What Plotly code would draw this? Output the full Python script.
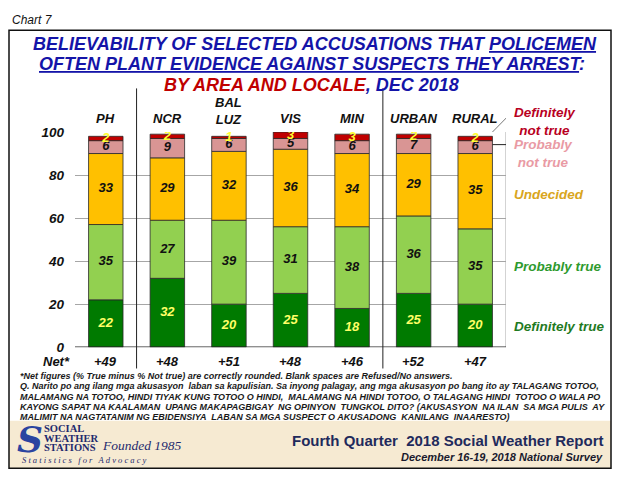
import plotly.graph_objects as go

W, H = 621, 486

categories = ["PH", "NCR", "BAL<br>LUZ", "VIS", "MIN", "URBAN", "RURAL"]
definitely_true = [22, 32, 20, 25, 18, 25, 20]
probably_true = [35, 27, 39, 31, 38, 36, 35]
undecided = [33, 29, 32, 36, 34, 29, 35]
probably_not_true = [6, 9, 6, 5, 6, 7, 6]
definitely_not_true = [2, 2, 1, 3, 3, 2, 2]
net_labels = ["+49", "+48", "+51", "+48", "+46", "+52", "+47"]

series = [
    ("Definitely true", definitely_true, "#007A00", "#FFFF66"),
    ("Probably true", probably_true, "#92D050", "#111111"),
    ("Undecided", undecided, "#FFC000", "#111111"),
    ("Probably not true", probably_not_true, "#D99594", "#111111"),
    ("Definitely not true", definitely_not_true, "#C00000", "#FFFF33"),
]

FONT = "Liberation Sans"
xpos = list(range(len(categories)))


def px(x):
    return x / W


def py(y):
    return 1 - y / H


fig = go.Figure()

base = [0] * len(categories)
label_traces = []
for name, vals, color, tcolor in series:
    fig.add_trace(go.Bar(
        x=xpos, y=vals, base=base, name=name,
        marker=dict(color=color, line=dict(color="#2a2a2a", width=0.8)),
        hoverinfo="skip", showlegend=False,
    ))
    mids = [b + v / 2 for b, v in zip(base, vals)]
    label_traces.append(go.Scatter(
        x=xpos, y=mids, mode="text", text=[str(v) for v in vals],
        textfont=dict(family=FONT, size=13, color=tcolor, weight="bold", style="italic"),
        hoverinfo="skip", showlegend=False,
    ))
    base = [b + v for b, v in zip(base, vals)]

for t in label_traces:
    fig.add_trace(t)

x0p, x1p = 75, 506
y0p, y1p = 351, 129

fig.update_layout(
    width=W, height=H,
    margin=dict(l=0, r=0, t=0, b=0),
    paper_bgcolor="white", plot_bgcolor="white",
    barmode="overlay", bargap=0.44,
    xaxis=dict(domain=[px(x0p), px(x1p)], range=[-0.5, 6.5], showticklabels=False,
               showgrid=False, zeroline=False, fixedrange=True),
    yaxis=dict(domain=[py(y0p), py(y1p)], range=[0, 100], tickvals=[0, 20, 40, 60, 80, 100],
               showgrid=True, gridcolor="#A6A6A6", gridwidth=1, zeroline=False,
               ticks="", ticklabelstandoff=10,
               tickfont=dict(family=FONT, size=13.5, color="#111111", weight="bold", style="italic")),
    font=dict(family=FONT),
)

shapes = []
# x axis line
shapes.append(dict(type="line", xref="x", yref="y", x0=-0.5, x1=6.5, y0=0, y1=0,
                   line=dict(color="#222222", width=1.2), layer="above"))
# right border of plot
shapes.append(dict(type="line", xref="x", yref="y", x0=6.5, x1=6.5, y0=0, y1=100,
                   line=dict(color="#A6A6A6", width=1), layer="below"))
# group separators
for sep in [0.5, 4.5]:
    shapes.append(dict(type="line", xref="x", yref="paper", x0=sep, x1=sep, y0=py(373), y1=py(84),
                       line=dict(color="#222222", width=1)))
# footer band
shapes.append(dict(type="rect", xref="paper", yref="paper", x0=px(9), x1=px(611), y0=py(476), y1=py(427),
                   fillcolor="#F6EAD2", line=dict(width=0), layer="below"))
# outer box
shapes.append(dict(type="rect", xref="paper", yref="paper", x0=px(9), x1=px(611), y0=py(476), y1=py(24),
                   line=dict(color="#111111", width=1.5)))
# leader lines
shapes.append(dict(type="line", xref="x", yref="paper", x0=6.28, x1=6.62, y0=py(129), y1=py(107),
                   line=dict(color="#777777", width=1)))
shapes.append(dict(type="line", xref="x", yref="paper", x0=6.28, x1=6.62, y0=py(142), y1=py(142),
                   line=dict(color="#222222", width=1)))
fig.update_layout(shapes=shapes)

ann = []


def add_text(x, y, text, size, color="#111111", xanchor="center", xref="paper", bold=True, italic=True,
             family=FONT, yanchor="middle"):
    ann.append(dict(x=x, y=y, xref=xref, yref="paper", text=text, showarrow=False,
                    xanchor=xanchor, yanchor=yanchor,
                    font=dict(family=family, size=size, color=color,
                              weight="bold" if bold else "normal",
                              style="italic" if italic else "normal")))


add_text(px(10), py(13), "Chart 7", 12, bold=False, xanchor="left")
BLUE = "#1414A8"
add_text(px(315), py(38), "BELIEVABILITY OF SELECTED ACCUSATIONS THAT <u>POLICEMEN</u>", 18, BLUE)
add_text(px(312), py(59), "<u>OFTEN PLANT EVIDENCE AGAINST SUSPECTS THEY ARREST</u>:", 18, BLUE)
add_text(px(311), py(80), "<span style='color:#C00000'>BY AREA AND LOCALE</span>, DEC 2018", 18, BLUE)

for i, c in enumerate(categories):
    add_text(i, py(107) if "<br>" in c else py(115), c, 13, xref="x")
    add_text(i, py(366), net_labels[i], 13, xref="x")
add_text(px(41), py(366), "Net*", 13, xanchor="left")

# legend-like labels
add_text(px(512), py(118), "Definitely<br>not true", 13.5, "#B8001E", xanchor="left")
add_text(px(512), py(151), "Probably<br>not true", 13.5, "#E99AA4", xanchor="left")
add_text(px(512), py(193), "Undecided", 13.5, "#D9A520", xanchor="left")
add_text(px(512), py(268), "Probably true", 13.5, "#2E9A2E", xanchor="left")
add_text(px(512), py(330), "Definitely true", 13.5, "#1F7A1F", xanchor="left")

foot = [
    "*Net figures (% True minus % Not true) are correctly rounded. Blank spaces are Refused/No answers.",
    "Q. Narito po ang ilang mga akusasyon  laban sa kapulisian. Sa inyong palagay, ang mga akusasyon po bang ito ay TALAGANG TOTOO,",
    "MALAMANG NA TOTOO, HINDI TIYAK KUNG TOTOO O HINDI,  MALAMANG NA HINDI TOTOO, O TALAGANG HINDI  TOTOO O WALA PO",
    "KAYONG SAPAT NA KAALAMAN  UPANG MAKAPAGBIGAY  NG OPINYON  TUNGKOL DITO? (AKUSASYON  NA ILAN  SA MGA PULIS  AY",
    "MALIMIT NA NAGTATANIM NG EBIDENSIYA  LABAN SA MGA SUSPECT O AKUSADONG  KANILANG  INAARESTO)",
]
for k, line in enumerate(foot):
    add_text(px(18), py(381 + 10.5 * k), line, 9, "#1a1a1a", xanchor="left")

# footer
NAVY = "#1F2A6E"
add_text(px(30), py(446), "S", 36, "#2B44A0", bold=True, italic=True, family="DejaVu Serif")
add_text(px(42), py(435), "SOCIAL", 10.5, NAVY, xanchor="left", italic=False, family="Liberation Serif")
add_text(px(42), py(445), "WEATHER", 10.5, NAVY, xanchor="left", italic=False, family="Liberation Serif")
add_text(px(42), py(455), "STATIONS", 10.5, NAVY, xanchor="left", italic=False, family="Liberation Serif")
add_text(px(100), py(452), "Founded 1985", 13.5, NAVY, xanchor="left", bold=False, family="Liberation Serif")
add_text(px(20), py(467), "S t a t i s t i c s   f o r   A d v o c a c y", 8.5, NAVY, xanchor="left",
         bold=False, family="Liberation Serif")
add_text(px(605), py(447), "Fourth Quarter  2018 Social Weather Report", 15, "#1F2A5C", xanchor="right",
         italic=False)
add_text(px(605), py(464), "December 16-19, 2018 National Survey", 11, "#1a1a2e", xanchor="right")

fig.update_layout(annotations=ann)

fig.write_html("out.html", config={"displayModeBar": False},
               post_script="document.body.style.margin='0';document.documentElement.style.overflow='hidden';document.body.style.overflow='hidden';")
